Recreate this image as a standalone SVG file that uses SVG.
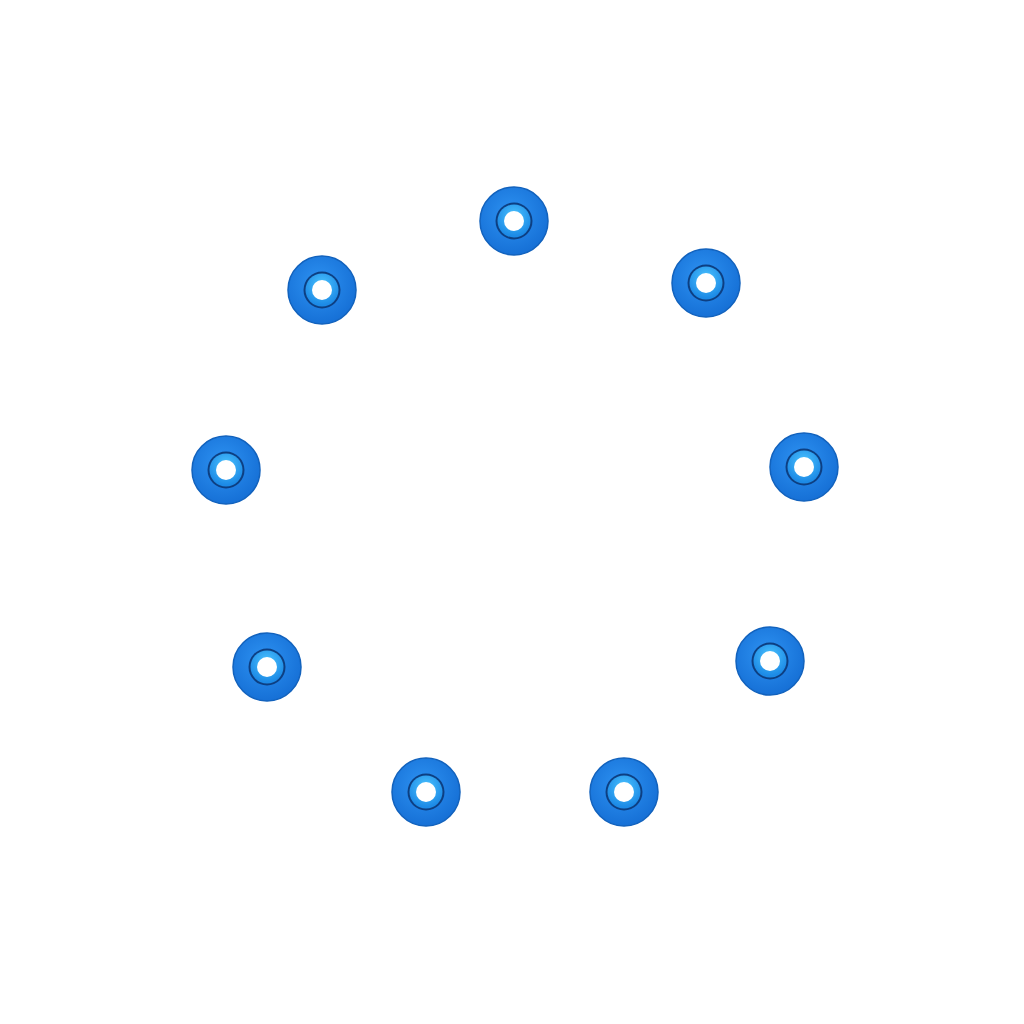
<svg xmlns="http://www.w3.org/2000/svg" width="1024" height="1024" viewBox="0 0 1024 1024">
<defs>
<radialGradient id="g" cx="0.45" cy="0.4" r="0.6"><stop offset="0" stop-color="#2d92f2"/><stop offset="1" stop-color="#1670d6"/></radialGradient>
<radialGradient id="gi" cx="0.5" cy="0.35" r="0.6"><stop offset="0" stop-color="#4cc4ff"/><stop offset="1" stop-color="#1c8ae6"/></radialGradient>
<g id="w">
<circle r="34" fill="url(#g)" stroke="#1262bd" stroke-width="1.5"/>
<circle r="18.5" fill="#0d3f82"/>
<circle r="16.5" fill="url(#gi)"/>
<circle r="10" fill="#fff"/>
</g>
</defs>
<rect width="1024" height="1024" fill="#fff"/>
<g id="n1"><use href="#w" x="514" y="221"/></g>
<g id="n2"><use href="#w" x="706" y="283"/></g>
<g id="n3"><use href="#w" x="804" y="467"/></g>
<g id="n4"><use href="#w" x="770" y="661"/></g>
<g id="n5"><use href="#w" x="624" y="792"/></g>
<g id="n6"><use href="#w" x="426" y="792"/></g>
<g id="n7"><use href="#w" x="267" y="667"/></g>
<g id="n8"><use href="#w" x="226" y="470"/></g>
<g id="n9"><use href="#w" x="322" y="290"/></g>
<g id="connectors"/>
</svg>
